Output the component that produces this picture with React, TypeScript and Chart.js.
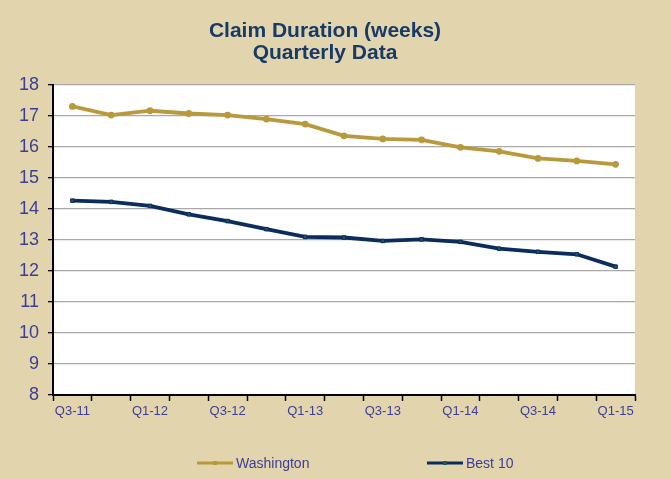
import React, { useEffect, useRef } from "react";
import { Chart, registerables } from "chart.js";

Chart.register(...registerables);

const quarters = [
  "Q3-11", "Q4-11", "Q1-12", "Q2-12", "Q3-12", "Q4-12", "Q1-13", "Q2-13",
  "Q3-13", "Q4-13", "Q1-14", "Q2-14", "Q3-14", "Q4-14", "Q1-15",
];
const washington = [17.31, 17.03, 17.17, 17.08, 17.03, 16.9, 16.74, 16.36, 16.26, 16.23, 15.99, 15.86, 15.63, 15.55, 15.44];
const best10 = [14.27, 14.23, 14.1, 13.83, 13.61, 13.35, 13.1, 13.08, 12.97, 13.02, 12.94, 12.72, 12.62, 12.54, 12.14];
const titleLines = ["Claim Duration (weeks)", "Quarterly Data"];
const yMin = 8;
const yMax = 18;

const TAN = "#e2d5ad";
const GOLD = "#b89a3c";
const NAVY = "#0c2b5e";
const LABEL = "#3d3d99";
const TITLE = "#173a66";

const decorPlugin = {
  id: "decor",
  beforeDraw(chart: any) {
    const { ctx, chartArea } = chart;
    ctx.save();
    ctx.fillStyle = TAN;
    ctx.fillRect(0, 0, chart.width, chart.height);
    ctx.fillStyle = "#ffffff";
    ctx.fillRect(chartArea.left, chartArea.top, chartArea.right - chartArea.left, chartArea.bottom - chartArea.top);
    ctx.restore();
  },
  afterDraw(chart: any) {
    const { ctx } = chart;
    ctx.save();
    // title
    ctx.fillStyle = TITLE;
    ctx.font = "bold 21px 'Liberation Sans', Arial, sans-serif";
    ctx.textAlign = "center";
    ctx.textBaseline = "middle";
    ctx.fillText(titleLines[0], 325, 31);
    ctx.fillText(titleLines[1], 325, 53);
    // legend
    const items = [
      { x: 197, ds: chart.data.datasets[0] },
      { x: 427, ds: chart.data.datasets[1] },
    ];
    const ly = 463;
    ctx.font = "14px 'Liberation Sans', Arial, sans-serif";
    ctx.textAlign = "left";
    items.forEach((it) => {
      ctx.strokeStyle = it.ds.borderColor;
      ctx.lineWidth = 3;
      ctx.beginPath();
      ctx.moveTo(it.x, ly);
      ctx.lineTo(it.x + 36, ly);
      ctx.stroke();
      ctx.fillStyle = it.ds.pointBackgroundColor;
      ctx.fillRect(it.x + 16, ly - 2, 4, 4);
      ctx.fillStyle = LABEL;
      ctx.fillText(it.ds.label, it.x + 39, ly + 1);
    });
    ctx.restore();
  },
};

export default function App() {
  const ref = useRef<HTMLCanvasElement>(null);
  useEffect(() => {
    document.body.style.margin = "0";
    const chart = new Chart(ref.current as HTMLCanvasElement, {
      type: "line",
      data: {
        labels: quarters,
        datasets: [
          {
            label: "Washington",
            data: washington,
            borderColor: GOLD,
            backgroundColor: GOLD,
            pointBackgroundColor: GOLD,
            pointBorderColor: GOLD,
            borderWidth: 3.8,
            pointRadius: 1.5,
            pointStyle: "circle",
            tension: 0,
          },
          {
            label: "Best 10",
            data: best10,
            borderColor: NAVY,
            backgroundColor: NAVY,
            pointBackgroundColor: "#1d5b4a",
            pointBorderColor: NAVY,
            borderWidth: 3.8,
            pointRadius: 2.5,
            pointBorderWidth: 1,
            pointStyle: "rect",
            tension: 0,
          },
        ],
      },
      options: {
        responsive: false,
        animation: false,
        layout: { padding: { left: 0, right: 36, top: 85, bottom: 54 } },
        plugins: {
          legend: { display: false },
          title: { display: false },
          tooltip: { enabled: false },
        },
        scales: {
          x: {
            offset: true,
            grid: {
              offset: true,
              drawOnChartArea: false,
              tickLength: 6,
              tickColor: "#000000",
              tickWidth: 1.5,
            },
            border: { color: "#000000", width: 2 },
            ticks: {
              autoSkip: false,
              maxRotation: 0,
              minRotation: 0,
              color: LABEL,
              font: { family: "'Liberation Sans', Arial, sans-serif", size: 13 },
              padding: 3,
              callback: (_v: any, i: number) => (i % 2 === 0 ? quarters[i] : ""),
            },
            afterFit: (s: any) => {
              s.height = 30;
            },
          },
          y: {
            min: yMin,
            max: yMax,
            grid: {
              color: "#a8a8a8",
              lineWidth: 1.3,
              tickLength: 5,
              tickColor: "#000000",
            },
            border: { color: "#000000", width: 2 },
            ticks: {
              stepSize: 1,
              color: LABEL,
              font: { family: "'Liberation Sans', Arial, sans-serif", size: 18 },
              padding: 9,
            },
            afterFit: (s: any) => {
              s.width = 53;
            },
          },
        },
      },
      plugins: [decorPlugin],
    } as any);
    return () => chart.destroy();
  }, []);
  return (
    <div style={{ width: 671, height: 479 }}>
      <canvas ref={ref} width={671} height={479} style={{ display: "block" }} />
    </div>
  );
}
